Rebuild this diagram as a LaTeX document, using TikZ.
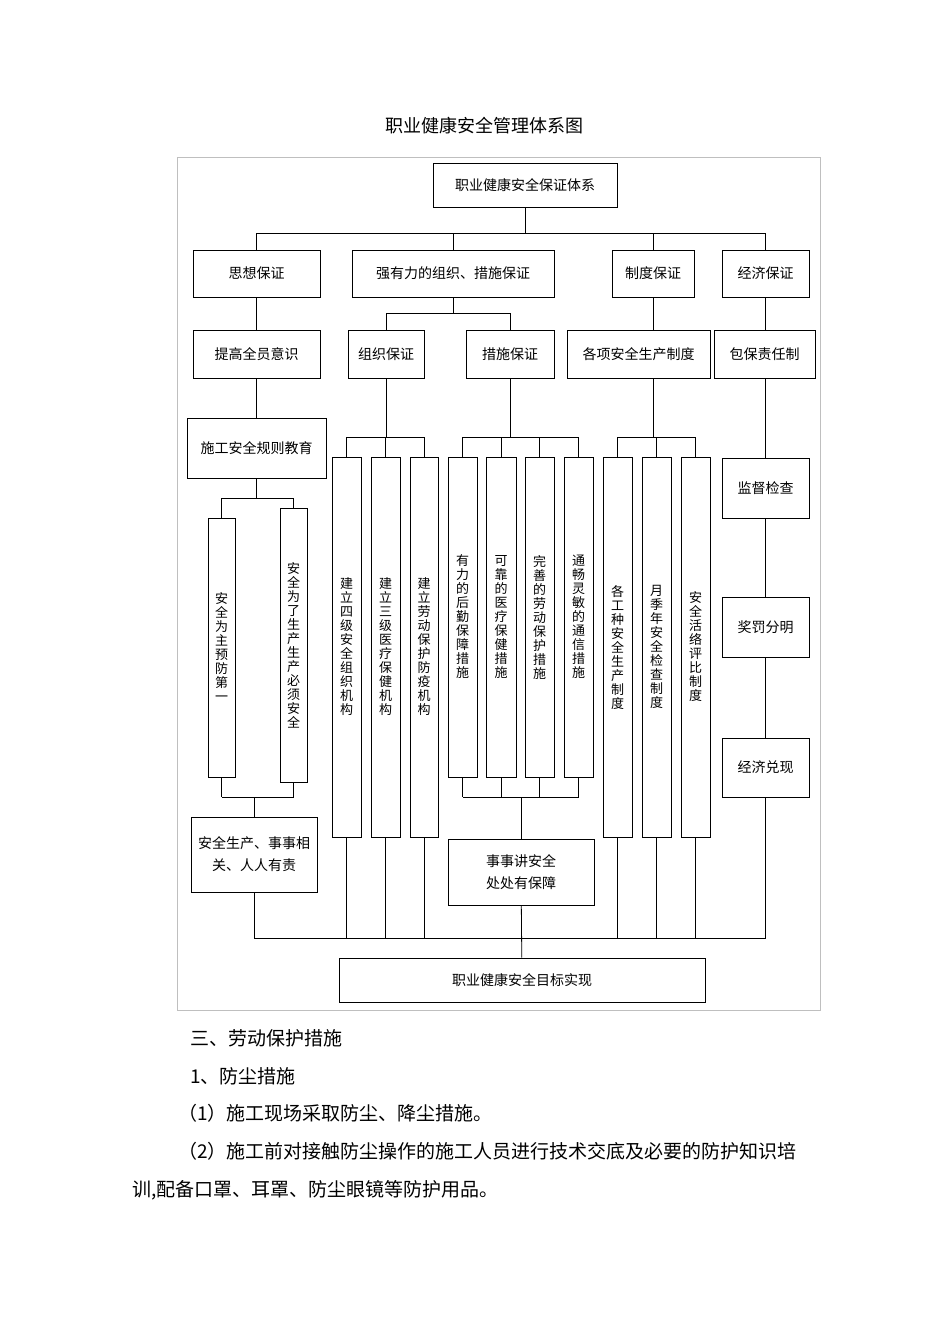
\documentclass[tikz,border=0pt]{standalone}
\usepackage{fontspec}
\setmainfont{Noto Sans CJK SC}
\newfontfamily\cjk{Noto Sans CJK SC}
\begin{document}
\begin{tikzpicture}[x=1pt,y=-1pt,
  bx/.style={draw, line width=0.8pt, inner sep=0pt, align=center, font=\fontsize{14}{18}\selectfont},
  vx/.style={bx, font=\fontsize{13}{14}\selectfont},
  ln/.style={line width=0.8pt},
  body/.style={anchor=west, inner sep=0pt, font=\fontsize{19}{22}\selectfont}]
\newcommand\bx[7][bx]{\node[#1, minimum width={(#5-#3)*1pt}, minimum height={(#6-#4)*1pt}] (#2) at ({(#3+#5)/2},{(#4+#6)/2}) {#7};}
\useasboundingbox (0,0) rectangle (950,1344);
\fill[white] (0,0) rectangle (950,1344);
\draw[gray!50, line width=0.8pt] (177,157) rectangle (820,1010);
\node[font=\fontsize{18}{20}\selectfont] (title) at (484,126) {职业健康安全管理体系图};
% boxes
\bx{top}{433}{163}{617}{207}{职业健康安全保证体系}
\bx{sx}{193}{250}{320}{297}{思想保证}
\bx{qy}{352}{250}{554}{297}{强有力的组织、措施保证}
\bx{zd}{612}{250}{694}{297}{制度保证}
\bx{jj}{722}{250}{809}{297}{经济保证}
\bx{tg}{193}{330}{320}{378}{提高全员意识}
\bx{zz}{348}{330}{424}{378}{组织保证}
\bx{cs}{466}{330}{554}{378}{措施保证}
\bx{gx}{567}{330}{710}{378}{各项安全生产制度}
\bx{bb}{714}{330}{815}{378}{包保责任制}
\bx{sg}{187}{418}{326}{478}{施工安全规则教育}
\bx[vx]{l1}{208}{518}{235}{777}{安\\全\\为\\主\\预\\防\\第\\一}
\bx[vx]{l2}{280}{508}{307}{782}{安\\全\\为\\了\\生\\产\\生\\产\\必\\须\\安\\全}
\bx[vx]{z1}{332}{457}{361}{837}{建\\立\\四\\级\\安\\全\\组\\织\\机\\构}
\bx[vx]{z2}{371}{457}{400}{837}{建\\立\\三\\级\\医\\疗\\保\\健\\机\\构}
\bx[vx]{z3}{410}{457}{438}{837}{建\\立\\劳\\动\\保\\护\\防\\疫\\机\\构}
\bx[vx]{c1}{448}{457}{477}{777}{有\\力\\的\\后\\勤\\保\\障\\措\\施}
\bx[vx]{c2}{486}{457}{516}{777}{可\\靠\\的\\医\\疗\\保\\健\\措\\施}
\bx[vx]{c3}{525}{457}{554}{777}{完\\善\\的\\劳\\动\\保\\护\\措\\施}
\bx[vx]{c4}{564}{457}{593}{777}{通\\畅\\灵\\敏\\的\\通\\信\\措\\施}
\bx[vx]{g1}{603}{457}{632}{837}{各\\工\\种\\安\\全\\生\\产\\制\\度}
\bx[vx]{g2}{642}{457}{671}{837}{月\\季\\年\\安\\全\\检\\查\\制\\度}
\bx[vx]{g3}{681}{457}{710}{837}{安\\全\\活\\络\\评\\比\\制\\度}
\bx{jd}{722}{458}{809}{518}{监督检查}
\bx{jf}{722}{597}{809}{657}{奖罚分明}
\bx{dx}{722}{738}{809}{797}{经济兑现}
\bx{aq}{191}{817}{317}{892}{安全生产、事事相\\[4pt]关、人人有责}
\bx{ss}{448}{839}{594}{905}{事事讲安全\\[4pt]处处有保障}
\bx{mb}{339}{958}{705}{1002}{职业健康安全目标实现}
% connectors
\coordinate (b1) at (0,233);
\draw[ln] (top.south) -- (top.south |- b1);
\draw[ln] (sx.north |- b1) -- (jj.north |- b1);
\foreach \n in {sx,qy,zd,jj} \draw[ln] (\n.north) -- (\n.north |- b1);
\draw[ln] (sx) -- (tg);
\draw[ln] (zd.south) -- (zd.south |- gx.north);
\draw[ln] (jj.south) -- (jj.south |- bb.north);
\draw[ln] (tg) -- (sg);
\coordinate (b2) at (0,313);
\draw[ln] (qy.south) -- (qy.south |- b2);
\draw[ln] (zz.north |- b2) -- (cs.north |- b2);
\draw[ln] (zz.north) -- (zz.north |- b2); \draw[ln] (cs.north) -- (cs.north |- b2);
\coordinate (b3) at (0,437);
\draw[ln] (zz.south) -- (zz.south |- b3); \draw[ln] (z1.north |- b3) -- (z3.north |- b3);
\foreach \n in {z1,z2,z3} \draw[ln] (\n.north) -- (\n.north |- b3);
\draw[ln] (cs.south) -- (cs.south |- b3); \draw[ln] (c1.north |- b3) -- (c4.north |- b3);
\foreach \n in {c1,c2,c3,c4} \draw[ln] (\n.north) -- (\n.north |- b3);
\draw[ln] (zd.south |- gx.south) -- (zd.south |- b3); \draw[ln] (g1.north |- b3) -- (g3.north |- b3);
\foreach \n in {g1,g2,g3} \draw[ln] (\n.north) -- (\n.north |- b3);
\draw[ln] (jj.south |- bb.south) -- (jj.south |- jd.north);
\draw[ln] (jd) -- (jf); \draw[ln] (jf) -- (dx);
\coordinate (b4) at (0,498);
\draw[ln] (sg.south) -- (sg.south |- b4); \draw[ln] (l1.north |- b4) -- (l2.north |- b4);
\foreach \n in {l1,l2} \draw[ln] (\n.north) -- (\n.north |- b4);
\coordinate (b5) at (0,797);
\foreach \n in {l1,l2} \draw[ln] (\n.south) -- (\n.south |- b5);
\draw[ln] (l1.south |- b5) -- (l2.south |- b5);
\draw[ln] (aq.north) -- (aq.north |- b5);
\foreach \n in {c1,c2,c3,c4} \draw[ln] (\n.south) -- (\n.south |- b5);
\draw[ln] (c1.south |- b5) -- (c4.south |- b5);
\draw[ln] (ss.north) -- (ss.north |- b5);
\coordinate (b6) at (0,938);
\draw[ln] (aq.south) -- (aq.south |- b6);
\draw[ln] (aq.south |- b6) -- (dx.south |- b6);
\foreach \n in {z1,z2,z3,g1,g2,g3,dx} \draw[ln] (\n.south) -- (\n.south |- b6);
\draw[ln] (ss) -- (mb);
% body text
\node[body] (t1) at (190,1038) {三、劳动保护措施};
\node[body] (t2) at (190,1076) {1、防尘措施};
\node[body] (t3) at (178,1113) {（1）施工现场采取防尘、降尘措施。};
\node[body] (t4) at (178,1151) {（2）施工前对接触防尘操作的施工人员进行技术交底及必要的防护知识培};
\node[body] (t5) at (132,1190) {训,配备口罩、耳罩、防尘眼镜等防护用品。};
\end{tikzpicture}
\end{document}
